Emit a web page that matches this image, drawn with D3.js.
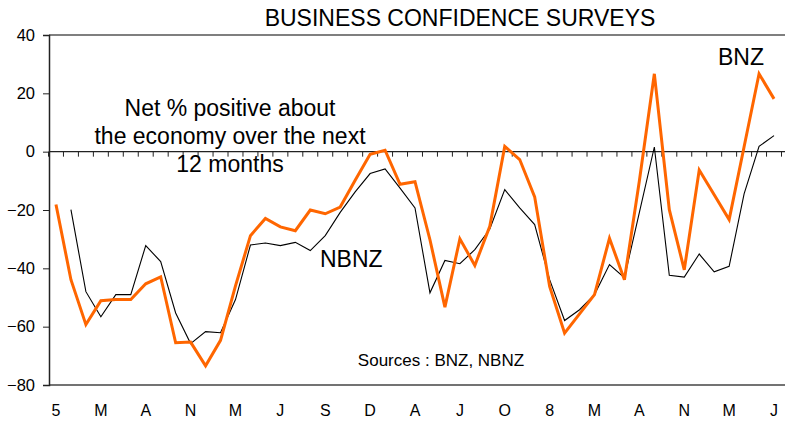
<!DOCTYPE html>
<html>
<head>
<meta charset="utf-8">
<script src="https://cdn.jsdelivr.net/npm/d3@7"></script>
<style>
  body { margin: 0; background: #fff; }
  svg text { font-family: "Liberation Sans", Arial, sans-serif; fill: #000; }
</style>
</head>
<body>
<div class="svgcontainer"></div>
<script>
// x-axis labels, one every 3rd point
const tickLabels = ["5", "M", "A", "N", "M", "J", "S", "D", "A", "J", "O", "8", "M", "A", "N", "M", "J"];

// BNZ survey (orange)
const bnz = [-18.1, -43.9, -59.3, -51.1, -50.7, -50.7, -45.3, -42.9, -65.5, -65.3,
  -73.4, -64.7, -46, -28.8, -22.9, -25.8, -27.1, -20, -21.3, -19,
  -9.8, -0.9, 0.5, -11.2, -10.3, -30.2, -53.3, -29.9, -39, -25.6,
  1.8, -2.7, -15.5, -46.2, -62.2, -55.6, -49, -29.7, -43.9, -10,
  26.7, -19.9, -40.5, -6.3, -14.8, -23.3, 1.7, 26.7, 18.1];

// NBNZ survey (black), no value for the first month
const nbnz = [null, -19.9, -48, -56.6, -49, -49, -32.2, -37.7, -55.3, -65.8,
  -61.7, -62.1, -50.7, -32, -31.3, -32.2, -31.1, -33.9, -28.8, -20.8,
  -13.8, -7.5, -5.9, -12.5, -19.3, -48.4, -37.3, -38.4, -33.6, -26.5,
  -13, -19.3, -25, -43.9, -57.9, -54.2, -49, -38.7, -43.2, -20.8,
  1.6, -42.4, -43, -35.1, -41.2, -39.3, -14.5, 1.8, 5.5];

const yTicks = [40, 20, 0, -20, -40, -60, -80];

const W = 785, H = 421;
const svg = d3.select('.svgcontainer')
    .append('svg')
    .attr('width', W)
    .attr('height', H);

const x = d3.scaleBand()
    .domain(d3.range(bnz.length))
    .range([48.5, 781.5]);
const xc = i => x(i) + x.bandwidth() / 2;

const y = d3.scaleLinear()
    .domain([-80, 40])
    .range([385, 35]);

// title
svg.append('text')
    .attr('x', 460).attr('y', 26)
    .attr('text-anchor', 'middle')
    .style('font-size', '23px')
    .text('BUSINESS CONFIDENCE SURVEYS');

// frame lines: top, bottom, left
svg.append('line')
    .attr('x1', 49).attr('x2', W)
    .attr('y1', y(40)).attr('y2', y(40))
    .attr('stroke', '#000').attr('stroke-width', 1.2);
svg.append('line')
    .attr('x1', 49).attr('x2', W)
    .attr('y1', y(-80)).attr('y2', y(-80))
    .attr('stroke', '#444').attr('stroke-width', 1.5);

// left axis
const yAxis = svg.append('g')
    .attr('transform', 'translate(49,0)')
    .call(d3.axisLeft(y).tickValues(yTicks).tickSize(6).tickPadding(8));
yAxis.select('.domain').attr('stroke', '#222').attr('stroke-width', 1.5);
yAxis.selectAll('.tick line').attr('stroke', '#222');
yAxis.selectAll('text').style('font-size', '16.5px').attr('fill', '#000');

// zero line with monthly ticks
svg.append('line')
    .attr('x1', 49).attr('x2', W)
    .attr('y1', y(0)).attr('y2', y(0))
    .attr('stroke', '#222').attr('stroke-width', 1.2);

const edges = d3.range(bnz.length + 1).map(i => i < bnz.length ? x(i) : x(i - 1) + x.bandwidth());
svg.selectAll('.mtick')
    .data(edges)
    .enter()
    .append('line')
    .attr('class', 'mtick')
    .attr('x1', d => d).attr('x2', d => d)
    .attr('y1', y(0)).attr('y2', y(0) + 5)
    .attr('stroke', '#222');

// x labels
svg.selectAll('.xlab')
    .data(tickLabels)
    .enter()
    .append('text')
    .attr('class', 'xlab')
    .attr('x', (d, i) => xc(i * 3))
    .attr('y', 416)
    .attr('text-anchor', 'middle')
    .style('font-size', '16px')
    .text(d => d);

// series lines
const line = d3.line()
    .defined(d => d != null)
    .x((d, i) => xc(i))
    .y(d => y(d));

svg.append('path')
    .datum(nbnz)
    .attr('fill', 'none')
    .attr('stroke', '#000')
    .attr('stroke-width', 1.1)
    .attr('d', line);

svg.append('path')
    .datum(bnz)
    .attr('fill', 'none')
    .attr('stroke', '#FF6600')
    .attr('stroke-width', 3)
    .attr('stroke-linejoin', 'miter')
    .attr('d', line);

// annotation
const note = ['Net % positive about', 'the economy over the next', '12 months'];
svg.selectAll('.note')
    .data(note)
    .enter()
    .append('text')
    .attr('class', 'note')
    .attr('x', 230)
    .attr('y', (d, i) => 116 + i * 28)
    .attr('text-anchor', 'middle')
    .style('font-size', '23px')
    .text(d => d);

svg.append('text')
    .attr('x', 320).attr('y', 267)
    .style('font-size', '23px')
    .text('NBNZ');

svg.append('text')
    .attr('x', 718).attr('y', 65)
    .style('font-size', '23px')
    .text('BNZ');

svg.append('text')
    .attr('x', 441).attr('y', 366)
    .attr('text-anchor', 'middle')
    .style('font-size', '17px')
    .text('Sources : BNZ, NBNZ');
</script>
</body>
</html>
